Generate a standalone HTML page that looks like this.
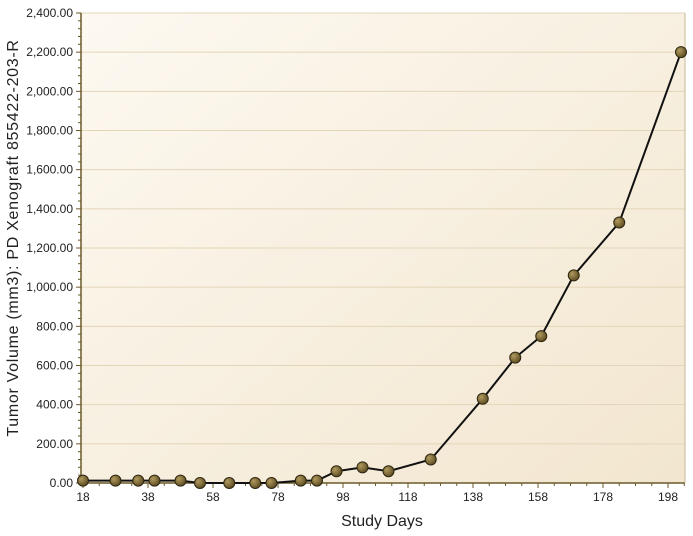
<!DOCTYPE html>
<html><head><meta charset="utf-8"><style>
html,body{margin:0;padding:0;background:#fff;}
svg{display:block;font-family:"Liberation Sans",Tahoma,sans-serif;}
</style></head><body>
<svg id="chart" width="693" height="536">
<defs>
<linearGradient id="bg" x1="0" y1="0" x2="1" y2="1">
<stop offset="0" stop-color="#fdf9f1"/><stop offset="1" stop-color="#f2e6cf"/>
</linearGradient>
<radialGradient id="mk" cx="0.35" cy="0.35" r="0.7">
<stop offset="0" stop-color="#b09a5e"/><stop offset="1" stop-color="#5c4a20"/>
</radialGradient>
</defs>
<rect x="81" y="13" width="604" height="470" fill="url(#bg)"/>
<g id="grid"></g>
<g id="axes"></g>
<g id="series"></g>
<text x="382" y="526" font-size="16" fill="#222" text-anchor="middle">Study Days</text>
<text transform="translate(18,238) rotate(-90)" font-size="16" letter-spacing="0.7" fill="#222" text-anchor="middle">Tumor Volume (mm3): PD Xenograft 855422-203-R</text>
</svg>
<script>
const days = [18,28,35,40,48,54,63,71,76,85,90,96,104,112,125,141,151,159,169,183,202];
const volumes = [12,12,12,12,12,0,0,0,0,12,12,60,80,60,120,430,640,750,1060,1330,2200];
const xTicks = [18,38,58,78,98,118,138,158,178,198];
const yTicks = [0,200,400,600,800,1000,1200,1400,1600,1800,2000,2200,2400];
const yTickLabels = ["0.00","200.00","400.00","600.00","800.00","1,000.00","1,200.00","1,400.00","1,600.00","1,800.00","2,000.00","2,200.00","2,400.00"];

const NS="http://www.w3.org/2000/svg";
const L=81,R=685,T=13,B=483;
const xs=d=>83+(d-18)*3.25;
const ys=v=>B-(v/2400)*(B-T);
function mk(tag,attrs,parent){const e=document.createElementNS(NS,tag);for(const k in attrs)e.setAttribute(k,attrs[k]);parent.appendChild(e);return e;}
const grid=document.getElementById('grid'),axes=document.getElementById('axes'),ser=document.getElementById('series');

yTicks.forEach((v,i)=>{
  const y=ys(v);
  if(v>0){const g=mk('line',{x1:L,x2:R,y1:y,y2:y,stroke:'#e3d5b8','stroke-width':1},grid);
  
  }
  mk('line',{x1:L-5,x2:L,y1:y,y2:y,stroke:'#6b5a2a'},axes);
  const t=mk('text',{x:L-8,y:y+4,'font-size':12,fill:'#222','text-anchor':'end'},axes);
  t.textContent=yTickLabels[i];
  
  
  if(i<yTicks.length-1){for(let m=1;m<5;m++){const my=ys(v+m*40);mk('line',{x1:L-3,x2:L,y1:my,y2:my,stroke:'#6b5a2a'},axes);}}
});
xTicks.forEach((d,i)=>{
  const x=xs(d);
  mk('line',{x1:x,x2:x,y1:B,y2:B+5,stroke:'#6b5a2a'},axes);
  for(let m=1;m<4;m++){const mx=xs(d+m*5);if(mx<=R)mk('line',{x1:mx,x2:mx,y1:B,y2:B+3,stroke:'#6b5a2a'},axes);}
  const t=mk('text',{x:x,y:B+18,'font-size':12,fill:'#222','text-anchor':'middle'},axes);
  t.textContent=d;
  
  
});
const ya=mk('line',{x1:L,x2:L,y1:T,y2:B,stroke:'#6b5a2a','stroke-width':1.5},axes);


const xa=mk('line',{x1:L,x2:R,y1:B,y2:B,stroke:'#6b5a2a','stroke-width':1.5},axes);


mk('line',{x1:R,x2:R,y1:T,y2:B,stroke:'#c8b894'},axes);

const pts=days.map((d,i)=>xs(d)+','+ys(volumes[i])).join(' ');
const pl=mk('polyline',{points:pts,fill:'none',stroke:'#111','stroke-width':2},ser);


days.forEach((d,i)=>{
  const c=mk('circle',{cx:xs(d),cy:ys(volumes[i]),r:5.5,fill:'url(#mk)',stroke:'#2e2610','stroke-width':1},ser);
  
  
});
</script>
</body></html>
